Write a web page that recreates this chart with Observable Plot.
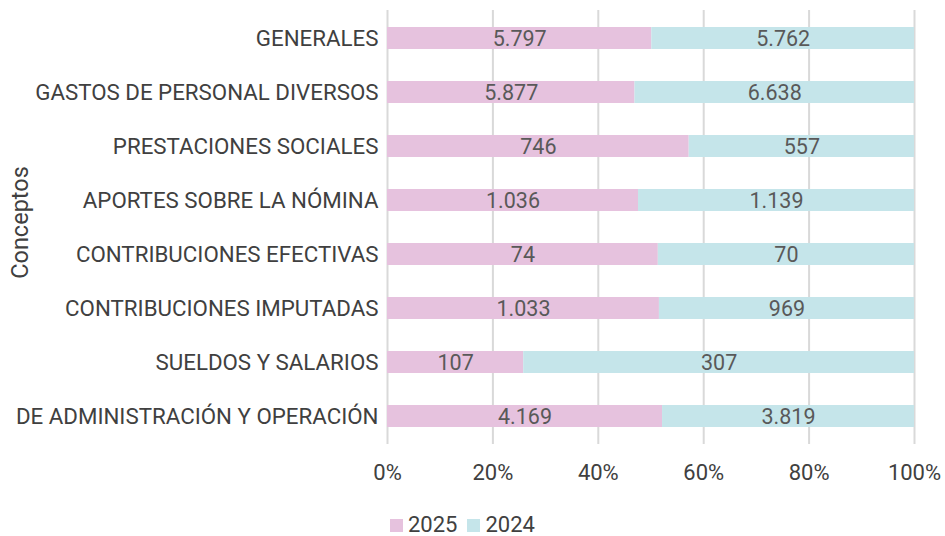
<!DOCTYPE html>
<html><head><meta charset="utf-8">
<script src="https://cdn.jsdelivr.net/npm/d3@7"></script>
<script src="https://cdn.jsdelivr.net/npm/@observablehq/plot@0.6"></script>
<style>
body{margin:0;background:#fff;font-family:Roboto,sans-serif;}
#chart svg{display:block;}
#legend{display:flex;padding-left:390px;margin-top:16px;font-size:22px;line-height:28px;color:#404040;white-space:nowrap;}
#legend .it{margin-right:10px;display:flex;align-items:center;}
#legend span.sw{display:inline-block;width:13px;height:13px;margin-right:5px;}
</style></head>
<body>
<div id="chart"></div>
<div id="legend"></div>
<script>
const categories = ["GENERALES","GASTOS DE PERSONAL DIVERSOS","PRESTACIONES SOCIALES","APORTES SOBRE LA NÓMINA","CONTRIBUCIONES EFECTIVAS","CONTRIBUCIONES IMPUTADAS","SUELDOS Y SALARIOS","DE ADMINISTRACIÓN Y OPERACIÓN"];
const values2025 = [5797,5877,746,1036,74,1033,107,4169];
const values2024 = [5762,6638,557,1139,70,969,307,3819];
const years = ["2025","2024"];
const colors = ["#e6c2de","#c5e5ea"];
const xTicks = [0,0.2,0.4,0.6,0.8,1];

const data = [];
categories.forEach((c,i)=>{
  data.push({concepto:c, year:"2025", value:values2025[i]});
  data.push({concepto:c, year:"2024", value:values2024[i]});
});
const fmt = d3.formatLocale({decimal:",",thousands:".",grouping:[3],currency:["","€"]}).format(",");

const plot = Plot.plot({
  width:945, height:495,
  marginLeft:387, marginRight:31, marginTop:10, marginBottom:51,
  style:{fontFamily:"Roboto, sans-serif", fontSize:"22px", color:"#404040", background:"#fff"},
  x:{domain:[0,1], label:null},
  y:{domain:categories, paddingInner:0.595, paddingOuter:0.2975, label:null},
  color:{domain:years, range:colors},
  marks:[
    Plot.gridX(xTicks,{stroke:"#d9d9d9", strokeOpacity:1, strokeWidth:2}),
    Plot.barX(data, Plot.stackX({x:"value", y:"concepto", fill:"year", z:"year", offset:"normalize", order:years})),
    Plot.text(data, Plot.stackX({x:"value", y:"concepto", z:"year", text:d=>fmt(d.value), offset:"normalize", order:years, fill:"#595959", fontSize:21.5, dy:1})),
    Plot.axisX(xTicks, {tickSize:0, tickPadding:20, tickFormat:d=>Math.round(d*100)+"%", label:null, fontSize:22, fill:"#404040"}),
    Plot.axisY({tickSize:0, tickPadding:9, label:null, fontSize:22.3, fill:"#404040"}),
    Plot.text(["Conceptos"],{frameAnchor:"left", textAnchor:"middle", dx:-367, dy:-5, rotate:-90, fontSize:23.5, fill:"#404040"})
  ]
});
document.getElementById("chart").appendChild(plot);
document.getElementById("legend").innerHTML = years.map((y,i)=>`<span class="it"><span class="sw" style="background:${colors[i]}"></span>${y}</span>`).join("");
</script>
</body></html>
